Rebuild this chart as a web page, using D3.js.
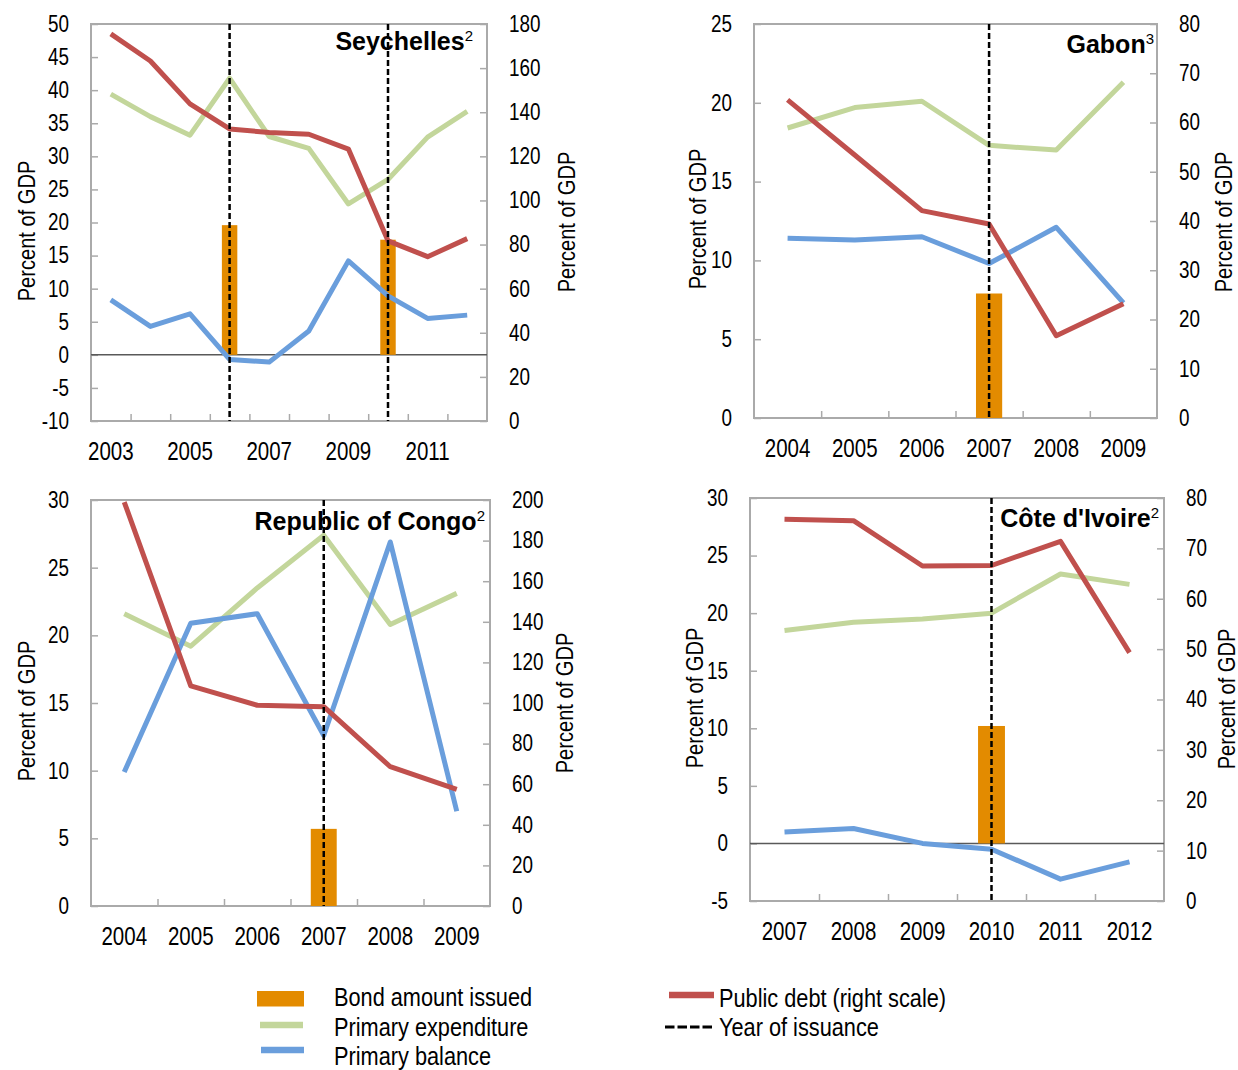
<!DOCTYPE html>
<html>
<head>
<meta charset="utf-8">
<script src="https://cdn.jsdelivr.net/npm/d3@7"></script>
<style>
  html, body { margin: 0; padding: 0; background: #ffffff; }
  svg { display: block; }
</style>
</head>
<body>
<script>
// ---------- Data (percent of GDP) ----------
// Seychelles
const seyYears = ['2003','2004','2005','2006','2007','2008','2009','2010','2011','2012'];
const seyExpenditure = [39.4, 36.0, 33.2, 41.8, 33.0, 31.2, 22.8, 26.5, 32.9, 36.8];
const seyBalance = [8.3, 4.3, 6.2, -0.7, -1.1, 3.6, 14.2, 8.9, 5.5, 6.0];
const seyDebt = [175.5, 163.2, 143.8, 132.4, 130.8, 130.0, 123.3, 81.7, 74.5, 82.7];
const seyBondYears = ['2006','2010'];
const seyBond = [19.6, 17.4];
const seyLeftTicks = [-10, -5, 0, 5, 10, 15, 20, 25, 30, 35, 40, 45, 50];
const seyRightTicks = [0, 20, 40, 60, 80, 100, 120, 140, 160, 180];

// Gabon
const gabYears = ['2004','2005','2006','2007','2008','2009'];
const gabExpenditure = [18.4, 19.7, 20.1, 17.3, 17.0, 21.3];
const gabBalance = [11.4, 11.3, 11.5, 9.8, 12.1, 7.3];
const gabDebt = [64.6, 53.4, 42.1, 39.4, 16.7, 23.2];
const gabBondYears = ['2007'];
const gabBond = [7.9];
const gabLeftTicks = [0, 5, 10, 15, 20, 25];
const gabRightTicks = [0, 10, 20, 30, 40, 50, 60, 70, 80];

// Republic of Congo
const cogYears = ['2004','2005','2006','2007','2008','2009'];
const cogExpenditure = [21.6, 19.2, 23.5, 27.4, 20.8, 23.1];
const cogBalance = [9.9, 20.9, 21.6, 12.6, 26.9, 7.0];
const cogDebt = [199.0, 108.4, 98.9, 98.2, 68.6, 57.5];
const cogBondYears = ['2007'];
const cogBond = [5.7];
const cogLeftTicks = [0, 5, 10, 15, 20, 25, 30];
const cogRightTicks = [0, 20, 40, 60, 80, 100, 120, 140, 160, 180, 200];

// Côte d'Ivoire
const civYears = ['2007','2008','2009','2010','2011','2012'];
const civExpenditure = [18.5, 19.2, 19.5, 20.0, 23.4, 22.5];
const civBalance = [1.0, 1.3, 0.0, -0.5, -3.1, -1.6];
const civDebt = [75.8, 75.5, 66.5, 66.6, 71.4, 49.3];
const civBondYears = ['2010'];
const civBond = [10.2];
const civLeftTicks = [-5, 0, 5, 10, 15, 20, 25, 30];
const civRightTicks = [0, 10, 20, 30, 40, 50, 60, 70, 80];

const legendLeft = ['Bond amount issued', 'Primary expenditure', 'Primary balance'];
const legendRight = ['Public debt (right scale)', 'Year of issuance'];

// ---------- Styling ----------
const W = 1238, H = 1070;
const ORANGE = '#e38b00';
const GREEN = '#c3d69b';
const BLUE = '#6a9edc';
const RED = '#c0504d';
const FRAME = '#aaaaaa';
const ZERO = '#595959';

const svg = d3.select('body').append('svg')
  .attr('width', W).attr('height', H)
  .attr('viewBox', `0 0 ${W} ${H}`);

// Use a condensed face when one is installed; otherwise compress regular glyphs.
const probe = svg.append('text').attr('font-size', 20).text('Percent of GDP 2003');
probe.attr('font-family', '"Liberation Sans Narrow"');
const wNarrow = probe.node().getComputedTextLength();
probe.attr('font-family', '"Liberation Sans"');
const wRegular = probe.node().getComputedTextLength();
probe.remove();
const hasNarrow = wNarrow < wRegular * 0.9;
const NARROW = hasNarrow
  ? '"Liberation Sans Narrow", "Arial Narrow", sans-serif'
  : '"Liberation Sans", Arial, sans-serif';
const REGULAR = '"Liberation Sans", Arial, Helvetica, sans-serif';

function condense(sel) {
  if (hasNarrow) return;
  sel.each(function () {
    const w = this.getComputedTextLength();
    if (w > 0) {
      this.setAttribute('textLength', (w * 0.82).toFixed(2));
      this.setAttribute('lengthAdjust', 'spacingAndGlyphs');
    }
  });
}

// ---------- Panels ----------
const panels = [
  {
    title: 'Seychelles', sup: '2',
    years: seyYears, exp: seyExpenditure, bal: seyBalance, debt: seyDebt,
    bondYears: seyBondYears, bond: seyBond,
    leftTicks: seyLeftTicks, rightTicks: seyRightTicks,
    box: [91, 24, 487, 421], labelEvery: 2,
    titlePos: [473, 50], leftTitle: [26, 231], rightTitle: [566, 222]
  },
  {
    title: 'Gabon', sup: '3',
    years: gabYears, exp: gabExpenditure, bal: gabBalance, debt: gabDebt,
    bondYears: gabBondYears, bond: gabBond,
    leftTicks: gabLeftTicks, rightTicks: gabRightTicks,
    box: [754, 24, 1157, 418], labelEvery: 1,
    titlePos: [1154, 53], leftTitle: [697, 219], rightTitle: [1223, 222]
  },
  {
    title: 'Republic of Congo', sup: '2',
    years: cogYears, exp: cogExpenditure, bal: cogBalance, debt: cogDebt,
    bondYears: cogBondYears, bond: cogBond,
    leftTicks: cogLeftTicks, rightTicks: cogRightTicks,
    box: [91, 500, 490, 906], labelEvery: 1,
    titlePos: [485, 530], leftTitle: [26, 711], rightTitle: [564, 703]
  },
  {
    title: "Côte d'Ivoire", sup: '2',
    years: civYears, exp: civExpenditure, bal: civBalance, debt: civDebt,
    bondYears: civBondYears, bond: civBond,
    leftTicks: civLeftTicks, rightTicks: civRightTicks,
    box: [750, 498, 1164, 901], labelEvery: 1,
    titlePos: [1159, 527], leftTitle: [694, 698], rightTitle: [1226, 699]
  }
];

function styleTicks(axisG, fontSize) {
  axisG.select('.domain').remove();
  axisG.selectAll('.tick line').attr('stroke', FRAME).attr('stroke-width', 1.5);
  axisG.selectAll('.tick text')
    .attr('font-family', NARROW)
    .attr('font-size', fontSize)
    .attr('fill', '#000');
}

function drawPanel(p) {
  const [x0, y0, x1, y1] = p.box;
  const g = svg.append('g');

  const x = d3.scaleBand().domain(p.years).range([x0, x1]);
  const bw = x.bandwidth();
  const cx = d => x(d) + bw / 2;
  const yL = d3.scaleLinear().domain([p.leftTicks[0], p.leftTicks[p.leftTicks.length - 1]]).range([y1, y0]);
  const yR = d3.scaleLinear().domain([p.rightTicks[0], p.rightTicks[p.rightTicks.length - 1]]).range([y1, y0]);

  // plot frame
  g.append('rect')
    .attr('x', x0).attr('y', y0)
    .attr('width', x1 - x0).attr('height', y1 - y0)
    .attr('fill', 'none').attr('stroke', FRAME).attr('stroke-width', 2);

  // left axis
  const la = g.append('g').attr('transform', `translate(${x0},0)`)
    .call(d3.axisLeft(yL).tickValues(p.leftTicks).tickSize(-7).tickPadding(22).tickFormat(d => String(d)));
  styleTicks(la, 23);
  condense(la.selectAll('.tick text'));

  // right axis
  const ra = g.append('g').attr('transform', `translate(${x1},0)`)
    .call(d3.axisRight(yR).tickValues(p.rightTicks).tickSize(-7).tickPadding(22).tickFormat(d => String(d)));
  styleTicks(ra, 23);
  condense(ra.selectAll('.tick text'));

  // category labels
  const xa = g.append('g').attr('transform', `translate(0,${y1})`)
    .call(d3.axisBottom(x).tickValues(p.years.filter((d, i) => i % p.labelEvery === 0)).tickSize(0).tickPadding(0));
  styleTicks(xa, 25);
  xa.selectAll('.tick text').attr('y', 39).attr('dy', null);
  condense(xa.selectAll('.tick text'));

  // tick marks between categories
  const xi = d3.scaleLinear().domain([0, p.years.length]).range([x0, x1]);
  const xt = g.append('g').attr('transform', `translate(0,${y1})`)
    .call(d3.axisBottom(xi).tickValues(d3.range(1, p.years.length)).tickSize(-7).tickFormat(''));
  styleTicks(xt, 10);

  // zero line
  if (p.leftTicks[0] < 0) {
    g.append('line')
      .attr('x1', x0).attr('x2', x1)
      .attr('y1', yL(0)).attr('y2', yL(0))
      .attr('stroke', ZERO).attr('stroke-width', 1.5);
  }

  // bond issuance bars
  const bonds = p.bondYears.map((yr, i) => ({ yr, v: p.bond[i] }));
  g.selectAll('rect.bond').data(bonds).join('rect')
    .attr('class', 'bond')
    .attr('x', d => cx(d.yr) - bw * 0.195)
    .attr('width', bw * 0.39)
    .attr('y', d => yL(d.v))
    .attr('height', d => yL(0) - yL(d.v))
    .attr('fill', ORANGE);

  // series lines
  const lineL = d3.line().x((d, i) => cx(p.years[i])).y(d => yL(d));
  const lineR = d3.line().x((d, i) => cx(p.years[i])).y(d => yR(d));
  const series = [
    { vals: p.exp, gen: lineL, color: GREEN },
    { vals: p.bal, gen: lineL, color: BLUE },
    { vals: p.debt, gen: lineR, color: RED }
  ];
  g.selectAll('path.series').data(series).join('path')
    .attr('class', 'series')
    .attr('d', d => d.gen(d.vals))
    .attr('fill', 'none')
    .attr('stroke', d => d.color)
    .attr('stroke-width', 5)
    .attr('stroke-linejoin', 'round');

  // year of issuance
  g.selectAll('line.issue').data(p.bondYears).join('line')
    .attr('class', 'issue')
    .attr('x1', d => cx(d)).attr('x2', d => cx(d))
    .attr('y1', y0).attr('y2', y1)
    .attr('stroke', '#000').attr('stroke-width', 2.5)
    .attr('stroke-dasharray', '6,3');

  // panel title
  const t = g.append('text')
    .attr('x', p.titlePos[0]).attr('y', p.titlePos[1])
    .attr('text-anchor', 'end')
    .attr('font-family', REGULAR)
    .attr('fill', '#000');
  t.append('tspan').attr('font-size', 25).attr('font-weight', 'bold').text(p.title);
  t.append('tspan').attr('font-size', 15).attr('dy', -9).text(p.sup);

  // axis titles
  [p.leftTitle, p.rightTitle].forEach(pos => {
    const at = g.append('text')
      .attr('transform', `translate(${pos[0]},${pos[1]}) rotate(-90)`)
      .attr('text-anchor', 'middle')
      .attr('dominant-baseline', 'central')
      .attr('font-family', NARROW)
      .attr('font-size', 24.5)
      .attr('fill', '#000')
      .text('Percent of GDP');
    condense(at);
  });
}

panels.forEach(drawPanel);

// ---------- Legend ----------
const lg = svg.append('g');
lg.append('rect').attr('x', 257).attr('y', 991).attr('width', 47).attr('height', 15.5).attr('fill', ORANGE);
lg.append('line').attr('x1', 260).attr('x2', 303).attr('y1', 1025).attr('y2', 1025)
  .attr('stroke', GREEN).attr('stroke-width', 6.5);
lg.append('line').attr('x1', 261).attr('x2', 304).attr('y1', 1050).attr('y2', 1050)
  .attr('stroke', BLUE).attr('stroke-width', 6.5);
lg.append('line').attr('x1', 669).attr('x2', 714).attr('y1', 995).attr('y2', 995)
  .attr('stroke', RED).attr('stroke-width', 6.5);
lg.append('line').attr('x1', 665).attr('x2', 714).attr('y1', 1027).attr('y2', 1027)
  .attr('stroke', '#000').attr('stroke-width', 3).attr('stroke-dasharray', '9.5,3');

const leftBase = [1006, 1036, 1065];
const rightBase = [1006.5, 1036];
lg.selectAll('text.ll').data(legendLeft).join('text')
  .attr('class', 'll')
  .attr('x', 334).attr('y', (d, i) => leftBase[i])
  .attr('font-family', NARROW).attr('font-size', 26.5).attr('fill', '#000')
  .text(d => d);
lg.selectAll('text.lr').data(legendRight).join('text')
  .attr('class', 'lr')
  .attr('x', 719).attr('y', (d, i) => rightBase[i])
  .attr('font-family', NARROW).attr('font-size', 26.5).attr('fill', '#000')
  .text(d => d);
condense(lg.selectAll('text'));
</script>
</body>
</html>
